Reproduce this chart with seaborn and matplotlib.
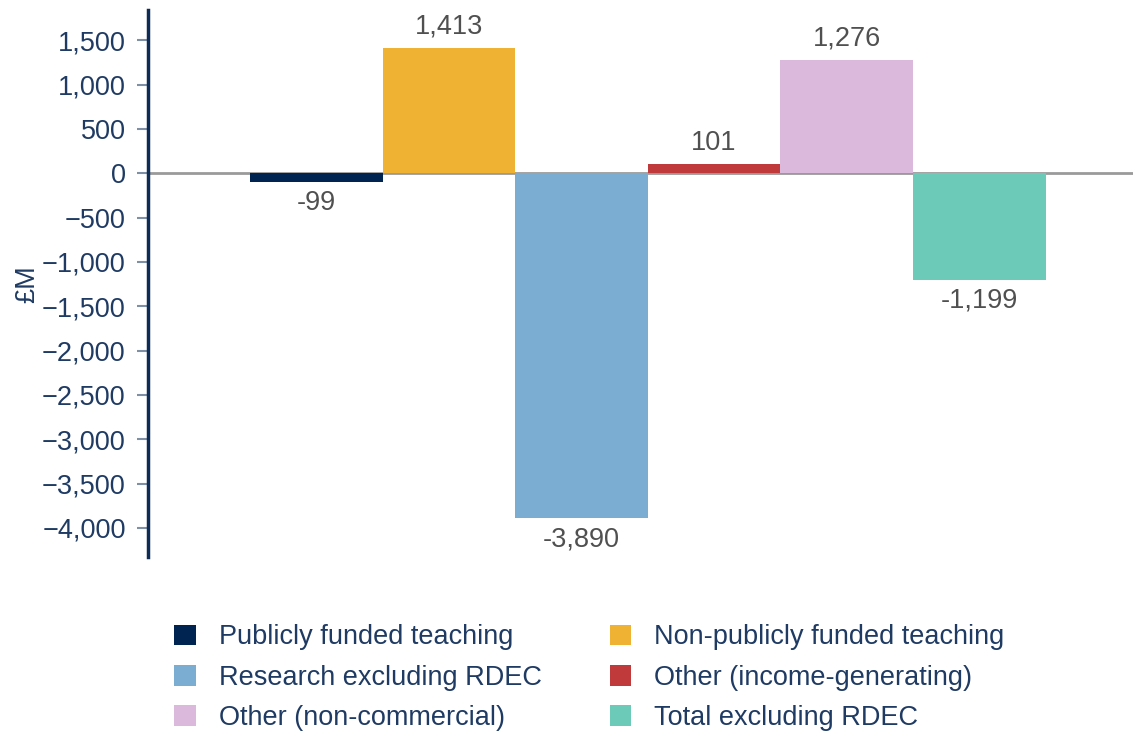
import matplotlib
matplotlib.use("Agg")
import matplotlib.pyplot as plt
import matplotlib.ticker as mticker
import seaborn as sns

# --------------------------
# Data
# --------------------------
categories = [
    "Publicly funded teaching",
    "Non-publicly funded teaching",
    "Research excluding RDEC",
    "Other (income-generating)",
    "Other (non-commercial)",
    "Total excluding RDEC",
]
values = [-99, 1413, -3890, 101, 1276, -1199]
colors = ["#002452", "#f0b233", "#7badd3", "#c0393b", "#dab9dc", "#6ccab9"]
yticks = list(range(-4000, 1501, 500))

NAVY = "#0d2b57"
TEXT = "#1f3b63"
LABEL = "#505050"
FS = 19.5

# --------------------------
# Plot
# --------------------------
sns.set_theme(style="white")
plt.rcParams["font.family"] = ["Liberation Sans", "DejaVu Sans"]

fig = plt.figure(figsize=(11.33, 7.35), dpi=100)
ax = fig.add_axes([0.1306, 0.242, 0.8694, 0.744])

sns.barplot(x=categories, y=values, hue=categories, palette=colors,
            width=1, saturation=1, linewidth=0, legend=True, ax=ax)

for cont in ax.containers:
    ax.bar_label(cont, labels=[f"{v:,.0f}" for v in cont.datavalues],
                 padding=6, fontsize=FS, color=LABEL)

ax.axhline(0, color="#9a9a9a", linewidth=2, zorder=0.5)
ax.set_xlim(-1.27, 6.16)
ax.set_ylim(-4330, 1840)
ax.set_yticks(yticks)
ax.yaxis.set_major_formatter(
    mticker.FuncFormatter(lambda v, p: f"{v:,.0f}".replace("-", "\u2212")))
ax.tick_params(axis="y", left=True, length=8, width=1.5, color="#7f8fa6",
               labelsize=FS, labelcolor=TEXT, pad=8)
ax.set_xticks([])
ax.set_xlabel("")
ax.set_ylabel("£M", fontsize=FS, color=TEXT, labelpad=1)

for side in ["top", "right", "bottom"]:
    ax.spines[side].set_visible(False)
ax.spines["left"].set_color(NAVY)
ax.spines["left"].set_linewidth(2.5)

# legend filled row by row
handles, labels = ax.get_legend_handles_labels()
ax.get_legend().remove()
order = [0, 2, 4, 1, 3, 5]
fig.legend([handles[i] for i in order], [labels[i] for i in order],
           loc="upper left", bbox_to_anchor=(0.142, 0.169), ncol=2,
           frameon=False, fontsize=FS, labelcolor=TEXT,
           handlelength=0.8, handleheight=0.8, handletextpad=0.85,
           columnspacing=2.5, labelspacing=0.53, borderpad=0)

fig.savefig("out.png", dpi=100)
plt.close(fig)
